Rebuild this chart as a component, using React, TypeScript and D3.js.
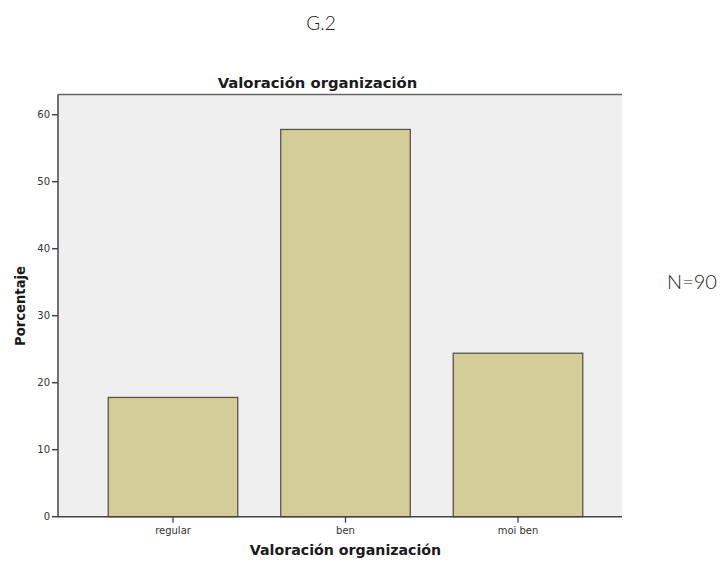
import React from "react";
import * as d3 from "d3";

const categories = ["regular", "ben", "moi ben"];
const percents = [17.8, 57.8, 24.4];
const yTicks = [0, 10, 20, 30, 40, 50, 60];
const chartTitle = "Valoración organización";
const xTitle = "Valoración organización";
const yTitle = "Porcentaje";
const figLabel = "G.2";
const nLabel = "N=90";

const W = 721;
const H = 565;
const plot = { left: 58, right: 622, top: 94.5, bottom: 516.7 };

export default function App() {
  const y = d3.scaleLinear().domain([0, 60]).range([plot.bottom, plot.bottom - 402]);
  const x = d3
    .scaleBand<string>()
    .domain(categories)
    .range([86.75, 604.25])
    .paddingInner(0.249)
    .paddingOuter(0.1245);
  const font = "'DejaVu Sans', sans-serif";
  return (
    <svg width={W} height={H} style={{ position: "absolute", left: 0, top: 0 }}>
      <rect x={0} y={0} width={W} height={H} fill="#ffffff" />
      <text x={321} y={30} fontFamily="Lato, 'Open Sans', sans-serif" fontWeight={300} fontSize={19} fill="#222" textAnchor="middle">
        {figLabel}
      </text>
      <text x={692} y={289} fontFamily="Lato, 'Open Sans', sans-serif" fontWeight={300} fontSize={20} fill="#222" textAnchor="middle">
        {nLabel}
      </text>
      <text x={317.5} y={88} fontFamily={font} fontWeight="bold" fontSize={14.8} fill="#1a1a1a" textAnchor="middle">
        {chartTitle}
      </text>
      <rect x={plot.left} y={plot.top} width={plot.right - plot.left} height={plot.bottom - plot.top} fill="#efefef" />
      <line x1={plot.left} x2={plot.right} y1={plot.top} y2={plot.top} stroke="#666" strokeWidth={1.3} />
      {categories.map((c, i) => (
        <rect
          key={c}
          x={x(c)}
          y={y(percents[i])}
          width={x.bandwidth()}
          height={y(0) - y(percents[i])}
          fill="#d3ce97"
          stroke="#55554d"
          strokeWidth={1.3}
        />
      ))}
      <line x1={plot.left} x2={plot.left} y1={plot.top} y2={plot.bottom} stroke="#444" strokeWidth={1.5} />
      <line x1={plot.left} x2={plot.right} y1={plot.bottom} y2={plot.bottom} stroke="#444" strokeWidth={1.5} />
      {yTicks.map((t) => (
        <g key={t}>
          <line x1={plot.left - 6} x2={plot.left} y1={y(t)} y2={y(t)} stroke="#444" strokeWidth={1.5} />
          <text x={plot.left - 8} y={y(t) + 3.7} fontFamily={font} fontSize={10} fill="#333" textAnchor="end">
            {t}
          </text>
        </g>
      ))}
      {categories.map((c) => {
        const cx = (x(c) as number) + x.bandwidth() / 2;
        return (
          <g key={c}>
            <line x1={cx} x2={cx} y1={plot.bottom} y2={plot.bottom + 6} stroke="#444" strokeWidth={1.3} />
            <text x={cx} y={plot.bottom + 17} fontFamily={font} fontSize={10} fill="#333" textAnchor="middle">
              {c}
            </text>
          </g>
        );
      })}
      <text x={345.5} y={555} fontFamily={font} fontWeight="bold" fontSize={14.2} fill="#1a1a1a" textAnchor="middle">
        {xTitle}
      </text>
      <text
        transform={`translate(25,306) rotate(-90)`}
        fontFamily={font}
        fontWeight="bold"
        fontSize={13.2}
        fill="#1a1a1a"
        textAnchor="middle"
      >
        {yTitle}
      </text>
    </svg>
  );
}
